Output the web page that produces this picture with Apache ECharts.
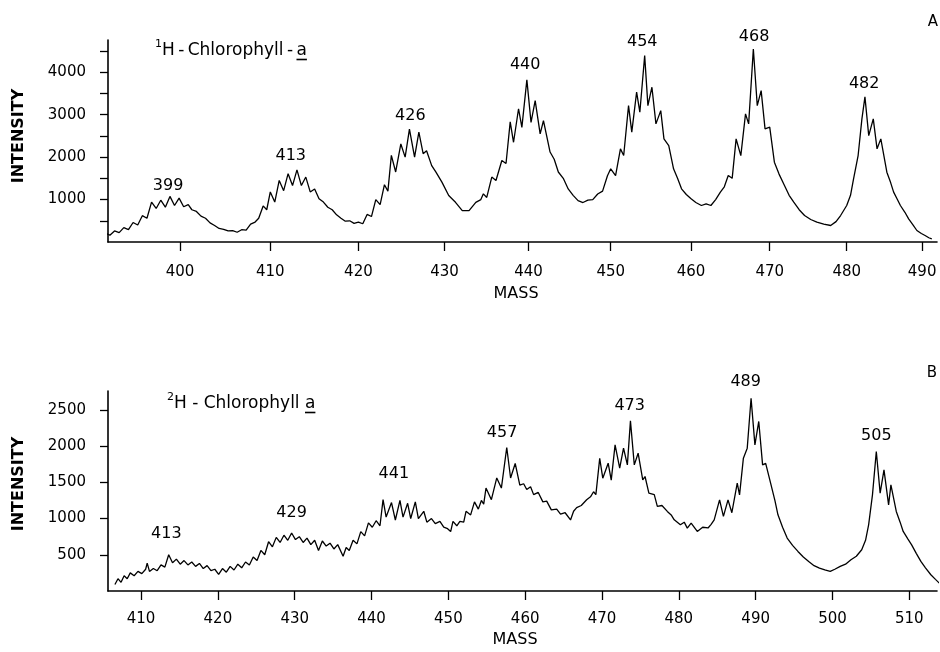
<!DOCTYPE html>
<html><head><meta charset="utf-8">
<script src="https://cdn.jsdelivr.net/npm/echarts@6/dist/echarts.min.js"></script>
<style>html,body{margin:0;padding:0;background:#fff}#c{width:940px;height:652px}</style>
</head><body><div id="c"></div>
<script>
// ---------- Panel A: 1H-Chlorophyll-a  [mass, intensity] ----------
const spectrumA = [
[391.4,130],[391.9,210],[392.4,160],[392.9,260],[393.4,220],[393.9,340],[394.4,290],[394.9,460],[395.4,400],[395.9,620],
[396.4,560],[396.9,940],[397.4,790],[397.9,985],[398.4,820],[398.9,1075],[399.4,860],[399.9,1035],[400.4,830],[400.9,880],
[401.3,760],[401.8,720],[402.3,610],[402.8,560],[403.3,450],[403.8,390],[404.3,320],[404.8,300],[405.3,260],[405.8,270],
[406.3,230],[406.8,290],[407.3,280],[407.8,420],[408.3,470],[408.7,560],[409.2,850],[409.6,760],[410.0,1180],[410.5,940],
[411.0,1450],[411.5,1210],[412.0,1610],[412.5,1330],[413.0,1700],[413.5,1330],[414.0,1530],[414.5,1180],[415.0,1250],[415.5,1020],
[416.0,940],[416.5,820],[417.0,760],[417.5,640],[418.0,560],[418.5,490],[419.0,500],[419.5,440],[420.0,470],[420.5,430],
[421.0,650],[421.5,600],[422.0,1000],[422.5,880],[423.0,1350],[423.4,1200],[423.8,2040],[424.3,1650],[424.9,2310],[425.4,2000],
[425.9,2660],[426.5,2000],[427.0,2590],[427.5,2080],[427.9,2150],[428.5,1800],[429.0,1645],[429.7,1410],[430.5,1095],[431.3,935],
[432.1,740],[432.9,740],[433.7,935],[434.3,1000],[434.6,1135],[435.0,1050],[435.6,1530],[436.1,1450],[436.8,1920],[437.3,1850],
[437.8,2830],[438.2,2350],[438.8,3140],[439.2,2700],[439.8,3820],[440.3,2820],[440.8,3330],[441.4,2550],[441.8,2860],[442.6,2120],
[443.1,1950],[443.6,1650],[444.2,1500],[444.8,1250],[445.4,1100],[446.0,975],[446.6,930],[447.2,985],[447.8,1000],[448.4,1130],
[449.0,1200],[449.6,1560],[450.0,1724],[450.6,1566],[451.2,2195],[451.6,2037],[452.2,3214],[452.6,2588],[453.2,3530],[453.6,3059],
[454.2,4392],[454.6,3214],[455.1,3647],[455.6,2783],[456.2,3096],[456.6,2430],[457.2,2272],[457.8,1724],[458.3,1500],[458.8,1253],
[459.4,1120],[460.0,1017],[460.6,930],[461.3,860],[461.9,900],[462.5,860],[463.1,1000],[463.7,1175],[464.2,1300],[464.7,1566],
[465.2,1500],[465.7,2430],[466.3,2037],[466.9,3019],[467.3,2783],[467.9,4549],[468.4,3214],[468.9,3567],[469.4,2666],[470.0,2705],
[470.6,1881],[471.2,1600],[471.9,1330],[472.5,1100],[473.1,939],[473.8,760],[474.5,624],[475.3,530],[476.1,468],[477.0,420],
[477.9,389],[478.6,480],[479.2,624],[480.0,860],[480.5,1100],[480.9,1488],[481.5,2037],[482.0,2900],[482.4,3420],[482.9,2508],
[483.5,2901],[484.0,2195],[484.5,2430],[485.3,1645],[485.8,1400],[486.2,1175],[486.7,1000],[487.1,860],[487.7,700],[488.2,546],
[488.8,400],[489.3,271],[489.9,200],[490.4,153],[490.9,100],[491.3,75]
];
const peakLabelsA = ['399','413','426','440','454','468','482'];
const peakLabelMassA = [398.7, 412.3, 426.0, 439.6, 453.9, 468.0, 482.3];
const peakLabelIntensityA = [1330, 2037, 2964, 4172, 4707, 4839, 3725];
const massTicksA = [400,410,420,430,440,450,460,470,480,490];
const intensityTicksA = [500,1000,1500,2000,2500,3000,3500,4000,4500];
const intensityLabelsA = [1000,2000,3000,4000];

// ---------- Panel B: 2H-Chlorophyll a  [mass, intensity] ----------
const spectrumB = [
[406.6,90],[407.0,170],[407.4,120],[407.8,210],[408.2,170],[408.6,250],[409.1,210],[409.6,270],[410.1,240],[410.6,300],
[410.8,385],[411.1,270],[411.6,310],[412.1,280],[412.6,360],[413.1,330],[413.6,500],[414.1,390],[414.6,440],[415.1,370],
[415.6,420],[416.1,360],[416.6,400],[417.1,340],[417.6,380],[418.1,310],[418.6,350],[419.1,280],[419.6,300],[420.1,230],
[420.6,310],[421.1,260],[421.6,340],[422.1,290],[422.6,370],[423.1,320],[423.6,400],[424.1,360],[424.6,470],[425.1,420],
[425.6,560],[426.1,500],[426.6,680],[427.1,610],[427.6,740],[428.1,670],[428.6,770],[429.1,700],[429.6,800],[430.1,710],
[430.6,750],[431.1,670],[431.6,730],[432.1,640],[432.6,700],[433.1,560],[433.6,690],[434.1,620],[434.6,660],[435.1,580],
[435.6,640],[436.3,480],[436.7,600],[437.1,560],[437.6,700],[438.1,650],[438.6,820],[439.1,760],[439.6,940],[440.1,880],
[440.6,970],[441.1,900],[441.5,1260],[441.9,1020],[442.6,1220],[443.1,980],[443.7,1250],[444.1,1020],[444.7,1210],[445.1,1000],
[445.7,1230],[446.1,1000],[446.8,1100],[447.2,950],[447.8,1000],[448.3,930],[448.9,960],[449.4,880],[449.9,860],[450.3,820],
[450.6,960],[451.1,900],[451.5,960],[452.0,950],[452.3,1100],[452.9,1050],[453.4,1230],[453.9,1130],[454.3,1250],[454.6,1200],
[454.9,1420],[455.6,1260],[456.3,1560],[456.9,1420],[457.6,1980],[458.1,1560],[458.7,1760],[459.3,1460],[459.8,1480],[460.2,1400],
[460.7,1440],[461.1,1330],[461.7,1360],[462.3,1230],[462.8,1240],[463.4,1120],[464.1,1130],[464.6,1060],[465.2,1080],[465.9,980],
[466.3,1100],[466.7,1150],[467.3,1180],[468.0,1260],[468.5,1300],[468.9,1370],[469.2,1330],[469.7,1830],[470.1,1557],[470.8,1764],
[471.2,1530],[471.7,2017],[472.3,1695],[472.8,1971],[473.3,1740],[473.7,2348],[474.2,1741],[474.7,1902],[475.3,1534],[475.6,1580],
[476.1,1350],[476.8,1330],[477.2,1167],[477.8,1180],[478.5,1098],[479.0,1050],[479.4,982],[480.2,913],[480.7,950],[481.1,868],
[481.6,937],[482.4,822],[483.1,880],[483.8,870],[484.2,920],[484.6,982],[485.3,1258],[485.8,1029],[486.4,1258],[486.9,1080],
[487.6,1488],[487.9,1327],[488.4,1833],[488.9,1971],[489.4,2660],[489.9,2017],[490.4,2340],[490.9,1741],[491.3,1760],[492.0,1465],
[492.5,1250],[492.9,1051],[493.5,880],[494.1,730],[494.8,630],[495.5,546],[496.2,470],[496.9,408],[497.6,350],[498.3,316],
[499.0,290],[499.7,270],[500.3,300],[501.0,339],[501.7,370],[502.4,431],[503.1,480],[503.8,569],[504.3,700],[504.7,913],
[505.2,1327],[505.7,1926],[506.2,1350],[506.7,1672],[507.3,1189],[507.6,1465],[508.3,1098],[508.8,950],[509.2,822],[509.8,720],
[510.3,637],[510.9,520],[511.5,408],[512.1,320],[512.8,224],[513.4,160],[513.9,109]
];
const peakLabelsB = ['413','429','441','457','473','489','505'];
const peakLabelMassB = [413.3, 429.6, 442.9, 457.0, 473.6, 488.7, 505.7];
const peakLabelIntensityB = [789, 1074, 1612, 2188, 2554, 2881, 2141];
const massTicksB = [410,420,430,440,450,460,470,480,490,500,510];
const intensityTicksB = [500,1000,1500,2000,2500];

// ---------- styling ----------
const FONT = 'DejaVu Sans';
const INK = '#000';

function xAxisCfg(grid, type, min, max, ticks, margin) {
  return {
    gridIndex: grid, type: type, min: min, max: max,
    axisLine: { show: true, onZero: false, lineStyle: { color: INK, width: 1.6 } },
    axisTick: { show: true, inside: false, length: 9, customValues: ticks, lineStyle: { color: INK, width: 1.3 } },
    axisLabel: { show: true, customValues: ticks, margin: margin, fontSize: 15, color: INK, fontFamily: FONT,
      formatter: v => String(Math.round(v)) },
    splitLine: { show: false }, minorTick: { show: false }, minorSplitLine: { show: false }
  };
}
function yAxisCfg(grid, max, ticks, labels) {
  return {
    gridIndex: grid, type: 'value', min: 0, max: max,
    axisLine: { show: true, lineStyle: { color: INK, width: 1.6 } },
    axisTick: { show: true, inside: false, length: 8, customValues: ticks, lineStyle: { color: INK, width: 1.3 } },
    axisLabel: { show: true, customValues: labels, margin: 22, fontSize: 15, color: INK, fontFamily: FONT,
      formatter: v => String(v) },
    splitLine: { show: false }
  };
}
function labelSeries(xi, names, masses, vals) {
  return {
    type: 'scatter', xAxisIndex: xi, yAxisIndex: xi, symbolSize: 1, clip: false, silent: true,
    itemStyle: { color: 'rgba(0,0,0,0)' },
    data: names.map((t, i) => ({ name: t, value: [masses[i], vals[i]] })),
    label: { show: true, position: 'inside', formatter: '{b}', fontSize: 16, color: INK, fontFamily: FONT,
      textBorderWidth: 0, textBorderColor: 'transparent', opacity: 1 },
    z: 5
  };
}

// title helper: superscript + main text + underlined trailing letter
const mctx = document.createElement('canvas').getContext('2d');
function titleGraphic(x, yc, sup, main, tail) {
  const fs = 17;
  mctx.font = fs + 'px "' + FONT + '"';
  const supW = 7;
  const mainW = mctx.measureText(main).width;
  const tailW = mctx.measureText(tail).width;
  const x0 = x + supW;
  return [
    { type: 'text', x: x, y: yc - 7, style: { text: sup, fontSize: 11, fontFamily: FONT, fill: INK, align: 'left', verticalAlign: 'middle' } },
    { type: 'text', x: x0, y: yc, style: { text: main, fontSize: fs, fontFamily: FONT, fill: INK, align: 'left', verticalAlign: 'middle' } },
    { type: 'text', x: x0 + mainW, y: yc, style: { text: tail, fontSize: fs, fontFamily: FONT, fill: INK, align: 'left', verticalAlign: 'middle' } },
    { type: 'line', shape: { x1: x0 + mainW, y1: yc + 8.5, x2: x0 + mainW + tailW, y2: yc + 8.5 }, style: { stroke: INK, lineWidth: 1.6 } }
  ];
}
function plainText(x, y, txt, size, weight, rot) {
  return { type: 'text', x: x, y: y, rotation: rot || 0,
    style: { text: txt, fontSize: size, fontWeight: weight || 'normal', fontFamily: FONT, fill: INK, align: 'center', verticalAlign: 'middle' } };
}

const chart = echarts.init(document.getElementById('c'), null, { renderer: 'canvas' });
chart.setOption({
  animation: false,
  backgroundColor: '#fff',
  grid: [
    { left: 108, top: 40, width: 829, height: 202 },
    { left: 108, top: 391, width: 829, height: 200 }
  ],
  xAxis: [ xAxisCfg(0, 'log', 392.2, 492.0, massTicksA, 23), xAxisCfg(1, 'value', 405.7, 513.6, massTicksB, 21) ],
  yAxis: [ yAxisCfg(0, 4760, intensityTicksA, intensityLabelsA), yAxisCfg(1, 2760, intensityTicksB, intensityTicksB) ],
  series: [
    { type: 'line', xAxisIndex: 0, yAxisIndex: 0, data: spectrumA, symbol: 'none', showSymbol: false,
      lineStyle: { color: INK, width: 1.3 }, silent: true },
    { type: 'line', xAxisIndex: 1, yAxisIndex: 1, data: spectrumB, symbol: 'none', showSymbol: false,
      lineStyle: { color: INK, width: 1.3 }, silent: true },
    labelSeries(0, peakLabelsA, peakLabelMassA, peakLabelIntensityA),
    labelSeries(1, peakLabelsB, peakLabelMassB, peakLabelIntensityB)
  ],
  graphic: [].concat(
    titleGraphic(155, 51, '1', 'H\u2009-\u2009Chlorophyll\u2009-\u2009', 'a'),
    titleGraphic(167, 404, '2', 'H - Chlorophyll ', 'a'),
    [
      plainText(19, 136, 'INTENSITY', 16, 'bold', Math.PI / 2),
      plainText(19, 484, 'INTENSITY', 16, 'bold', Math.PI / 2),
      plainText(516, 294, 'MASS', 16),
      plainText(515, 640, 'MASS', 16),
      plainText(933, 22, 'A', 15),
      plainText(932, 373, 'B', 15)
    ]
  )
});
</script>
</body></html>
